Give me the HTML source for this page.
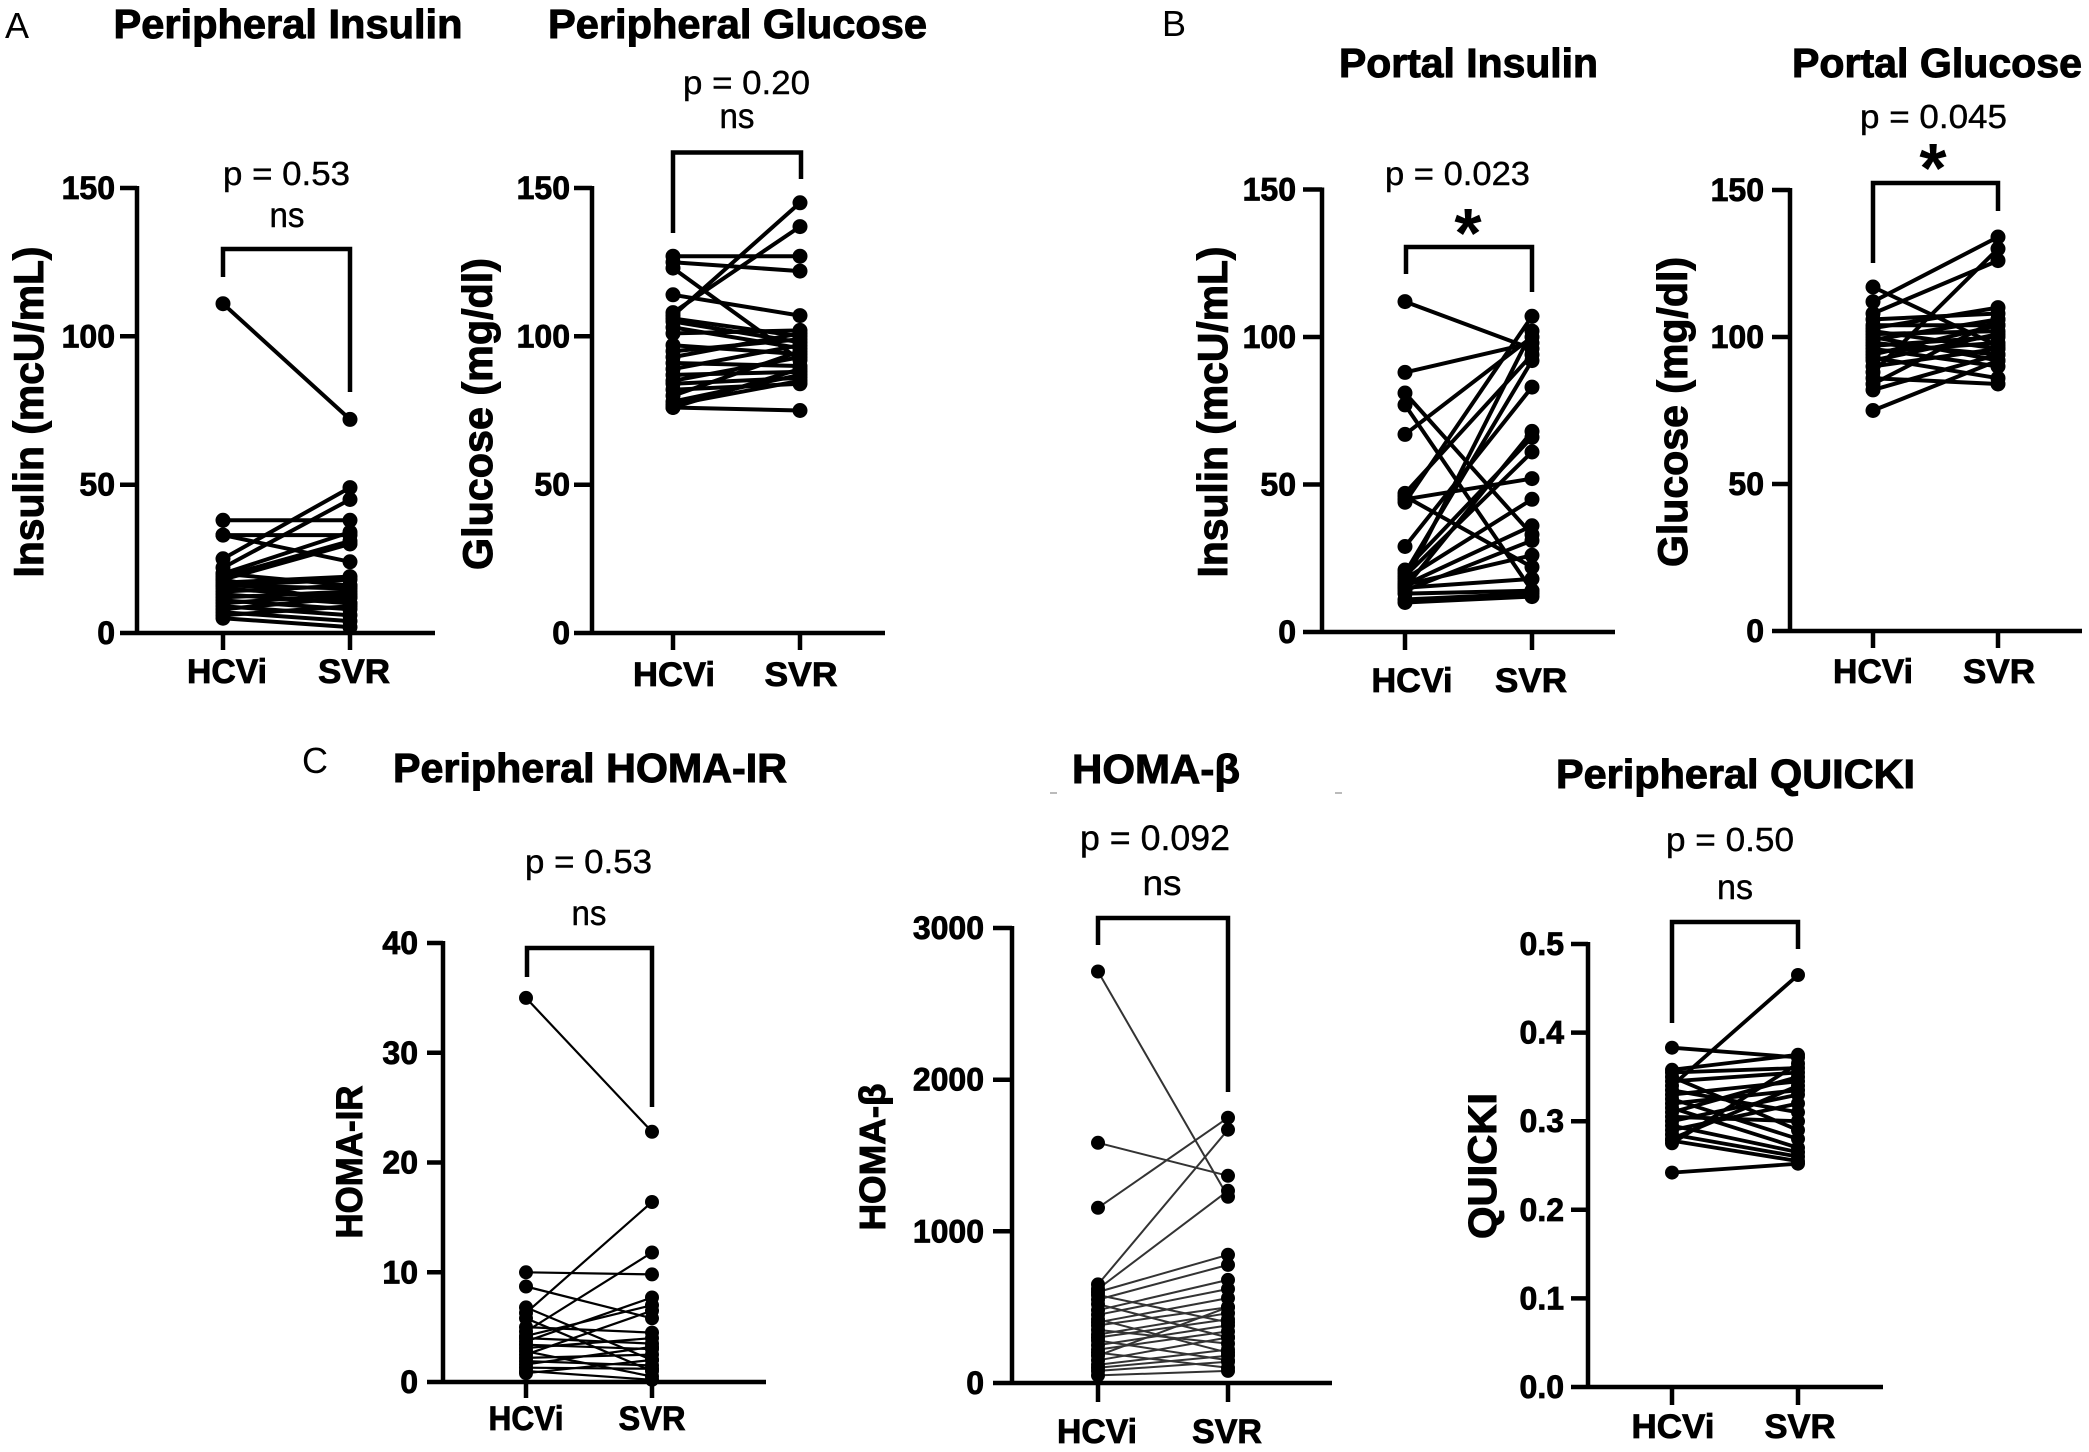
<!DOCTYPE html>
<html>
<head>
<meta charset="utf-8">
<style>
  html, body { margin: 0; padding: 0; background: #ffffff; }
  svg { display: block; }
  .t { font-family: "Liberation Sans", Arial, sans-serif; fill: #000; }
</style>
</head>
<body>
<svg id="fig" xmlns="http://www.w3.org/2000/svg" width="2089" height="1452" viewBox="0 0 2089 1452">
  <rect x="0" y="0" width="2089" height="1452" fill="#fff"/>

  <!-- Panel letters -->
  <text class="t" x="5" y="38" font-size="36">A</text>
  <text class="t" x="1162" y="36" font-size="36">B</text>
  <text class="t" x="302" y="773" font-size="36">C</text>

  <!-- Titles -->
  <g class="t" font-size="41" text-anchor="middle" font-weight="bold" stroke="#000" stroke-width="1">
    <text x="288" y="38" textLength="349" lengthAdjust="spacingAndGlyphs">Peripheral Insulin</text>
    <text x="737.5" y="38" textLength="379" lengthAdjust="spacingAndGlyphs">Peripheral Glucose</text>
    <text x="1468.5" y="77" textLength="259" lengthAdjust="spacingAndGlyphs">Portal Insulin</text>
    <text x="1937" y="77" textLength="290" lengthAdjust="spacingAndGlyphs">Portal Glucose</text>
    <text x="590" y="782" textLength="394" lengthAdjust="spacingAndGlyphs">Peripheral HOMA-IR</text>
    <text x="1156" y="783" textLength="168" lengthAdjust="spacingAndGlyphs">HOMA-β</text>
    <text x="1735.5" y="788" textLength="359" lengthAdjust="spacingAndGlyphs">Peripheral QUICKI</text>
  </g>

  <!-- faint marks near HOMA-beta title -->
  <line x1="1050" y1="793" x2="1057" y2="793" stroke="#bbb" stroke-width="2"/>
  <line x1="1335" y1="793" x2="1342" y2="793" stroke="#bbb" stroke-width="2"/>

  <!-- p-values -->
  <g class="t" font-size="33" text-anchor="middle" stroke="#000" stroke-width="0.4">
    <text x="286.5" y="185" textLength="127" lengthAdjust="spacingAndGlyphs">p = 0.53</text>
    <text x="746.5" y="94" textLength="127" lengthAdjust="spacingAndGlyphs">p = 0.20</text>
    <text x="1457.5" y="185" textLength="145" lengthAdjust="spacingAndGlyphs">p = 0.023</text>
    <text x="1933.5" y="128" textLength="147" lengthAdjust="spacingAndGlyphs">p = 0.045</text>
    <text x="588.5" y="873" textLength="127" lengthAdjust="spacingAndGlyphs">p = 0.53</text>
    <text x="1155" y="850" font-size="35" textLength="150" lengthAdjust="spacingAndGlyphs">p = 0.092</text>
    <text x="1730" y="851" textLength="128" lengthAdjust="spacingAndGlyphs">p = 0.50</text>
  </g>
  <!-- ns -->
  <g class="t" font-size="35" text-anchor="middle" stroke="#000" stroke-width="0.4">
    <text x="287" y="227" textLength="35" lengthAdjust="spacingAndGlyphs">ns</text>
    <text x="737" y="128" textLength="35" lengthAdjust="spacingAndGlyphs">ns</text>
    <text x="589" y="925" textLength="35" lengthAdjust="spacingAndGlyphs">ns</text>
    <text x="1162" y="895" textLength="39" lengthAdjust="spacingAndGlyphs">ns</text>
    <text x="1735" y="899" textLength="36" lengthAdjust="spacingAndGlyphs">ns</text>
  </g>
  <!-- asterisks -->
  <g class="t" font-size="70" font-weight="bold" text-anchor="middle">
    <text x="1468" y="257">*</text>
    <text x="1933" y="192">*</text>
  </g>

  <!-- Brackets -->
  <g fill="none" stroke="#000" stroke-width="4.5">
    <path d="M223,277 V249 H350 V392"/>
    <path d="M673,233 V152.5 H801 V179"/>
    <path d="M1406,274 V247 H1532 V292"/>
    <path d="M1873,263 V183 H1998 V211"/>
    <path d="M527,977 V948 H652 V1107"/>
    <path d="M1098,945 V918 H1228 V1092"/>
    <path d="M1672,1023 V922 H1798 V949"/>
  </g>

  <!-- Axes -->
  <g fill="none" stroke="#000" stroke-width="4.5">
    <path d="M137,186 V633 M120,633 H435 M120,188 H137 M120,336.3 H137 M120,484.7 H137 M223,633 V650 M350,633 V650"/>
    <path d="M592,186 V633 M574,633 H885 M574,188 H592 M574,336.3 H592 M574,484.7 H592 M673,633 V650 M800,633 V650"/>
    <path d="M1322,187.5 V632 M1303,632 H1615 M1303,189.5 H1322 M1303,337 H1322 M1303,484.5 H1322 M1405,632 V650 M1532,632 V650"/>
    <path d="M1790,188 V631 M1772,631 H2082 M1772,190 H1790 M1772,337 H1790 M1772,484 H1790 M1873,631 V648 M1998,631 V648"/>
    <path d="M443,941 V1382 M427,1382 H766 M427,943 H443 M427,1052.75 H443 M427,1162.5 H443 M427,1272.25 H443 M526,1382 V1398 M652,1382 V1398"/>
    <path d="M1012,926 V1383 M993,1383 H1332 M993,928 H1012 M993,1079.7 H1012 M993,1231.3 H1012 M1098,1383 V1402 M1228,1383 V1402"/>
    <path d="M1588,942 V1387 M1571,1387 H1883 M1571,944 H1588 M1571,1032.6 H1588 M1571,1121.2 H1588 M1571,1209.8 H1588 M1571,1298.4 H1588 M1672,1387 V1405 M1798,1387 V1405"/>
  </g>

  <!-- Y tick labels -->
  <g class="t" font-size="32" font-weight="bold" text-anchor="end" stroke="#000" stroke-width="0.8">
    <text x="115" y="199">150</text>
    <text x="115" y="347.3">100</text>
    <text x="115" y="495.7">50</text>
    <text x="115" y="644">0</text>

    <text x="570" y="199">150</text>
    <text x="570" y="347.3">100</text>
    <text x="570" y="495.7">50</text>
    <text x="570" y="644">0</text>

    <text x="1296" y="200.5">150</text>
    <text x="1296" y="348">100</text>
    <text x="1296" y="495.5">50</text>
    <text x="1296" y="643">0</text>

    <text x="1764" y="201">150</text>
    <text x="1764" y="348">100</text>
    <text x="1764" y="495">50</text>
    <text x="1764" y="642">0</text>

    <text x="418" y="954">40</text>
    <text x="418" y="1063.75">30</text>
    <text x="418" y="1173.5">20</text>
    <text x="418" y="1283.25">10</text>
    <text x="418" y="1393">0</text>

    <text x="984" y="939">3000</text>
    <text x="984" y="1090.7">2000</text>
    <text x="984" y="1242.3">1000</text>
    <text x="984" y="1394">0</text>

    <text x="1564" y="955">0.5</text>
    <text x="1564" y="1043.6">0.4</text>
    <text x="1564" y="1132.2">0.3</text>
    <text x="1564" y="1220.8">0.2</text>
    <text x="1564" y="1309.4">0.1</text>
    <text x="1564" y="1398">0.0</text>
  </g>

  <!-- X tick labels -->
  <g class="t" font-size="34" font-weight="bold" text-anchor="middle" stroke="#000" stroke-width="0.8">
    <text x="227" y="683" textLength="80" lengthAdjust="spacingAndGlyphs">HCVi</text>
    <text x="354" y="683" textLength="72" lengthAdjust="spacingAndGlyphs">SVR</text>
    <text x="674" y="686" textLength="82" lengthAdjust="spacingAndGlyphs">HCVi</text>
    <text x="801" y="686" textLength="73" lengthAdjust="spacingAndGlyphs">SVR</text>
    <text x="1412" y="692" textLength="81" lengthAdjust="spacingAndGlyphs">HCVi</text>
    <text x="1531" y="692" textLength="72" lengthAdjust="spacingAndGlyphs">SVR</text>
    <text x="1873" y="683" textLength="80" lengthAdjust="spacingAndGlyphs">HCVi</text>
    <text x="1999" y="683" textLength="72" lengthAdjust="spacingAndGlyphs">SVR</text>
    <text x="526" y="1430" textLength="75" lengthAdjust="spacingAndGlyphs">HCVi</text>
    <text x="652" y="1430" textLength="67" lengthAdjust="spacingAndGlyphs">SVR</text>
    <text x="1097" y="1443" textLength="80" lengthAdjust="spacingAndGlyphs">HCVi</text>
    <text x="1227" y="1443" textLength="70" lengthAdjust="spacingAndGlyphs">SVR</text>
    <text x="1673" y="1438" textLength="83" lengthAdjust="spacingAndGlyphs">HCVi</text>
    <text x="1800" y="1438" textLength="71" lengthAdjust="spacingAndGlyphs">SVR</text>
  </g>

  <!-- Y axis titles -->
  <g class="t" font-weight="bold" text-anchor="middle" stroke="#000" stroke-width="1">
    <text font-size="42" transform="translate(43,412) rotate(-90)" textLength="331" lengthAdjust="spacingAndGlyphs">Insulin (mcU/mL)</text>
    <text font-size="42" transform="translate(492,414) rotate(-90)" textLength="312" lengthAdjust="spacingAndGlyphs">Glucose (mg/dl)</text>
    <text font-size="42" transform="translate(1227,412) rotate(-90)" textLength="331" lengthAdjust="spacingAndGlyphs">Insulin (mcU/mL)</text>
    <text font-size="42" transform="translate(1687,412) rotate(-90)" textLength="310" lengthAdjust="spacingAndGlyphs">Glucose (mg/dl)</text>
    <text font-size="37" transform="translate(362,1162) rotate(-90)" textLength="153" lengthAdjust="spacingAndGlyphs">HOMA-IR</text>
    <text font-size="36" transform="translate(885,1157) rotate(-90)" textLength="147" lengthAdjust="spacingAndGlyphs">HOMA-β</text>
    <text font-size="40" transform="translate(1496,1166) rotate(-90)" textLength="146" lengthAdjust="spacingAndGlyphs">QUICKI</text>
  </g>

  <g id="data"></g>
</svg>

<script>
(function(){
  var NS = "http://www.w3.org/2000/svg";
  var panels = [
    {hx:223, sx:350, y0:633, yt:188, vmax:150, lw:4, col:"#000", r:7.5,
     pairs:[[111,72],[38,38],[33,33],[33,24],[25,49],[22,45],[20,34],[19,31],[18,30],[17,19],[16,18],[16,15],[15,12],[14,16],[13,10],[12,14],[11,8],[10,13],[9,6],[8,12],[7,4],[6,9],[5,2],[18,10],[20,16]]},
    {hx:673, sx:800, y0:633, yt:188, vmax:150, lw:4, col:"#000", r:7.5,
     pairs:[[127,127],[125,122],[123,92],[114,107],[108,137],[107,145],[106,100],[105,98],[103,96],[101,102],[97,94],[95,99],[93,101],[91,90],[89,97],[87,88],[85,93],[84,86],[82,84],[80,95],[78,87],[77,85],[76,75],[76,89]]},
    {hx:1405, sx:1532, y0:632, yt:189.5, vmax:150, lw:4, col:"#000", r:7.5,
     pairs:[[112,96],[88,98],[81,33],[77,14],[67,100],[47,94],[46,22],[45,52],[44,107],[29,83],[21,66],[20,92],[19,61],[18,45],[17,102],[16,36],[16,26],[15,18],[15,68],[14,31],[13,14],[10,12],[11,13]]},
    {hx:1873, sx:1998, y0:631, yt:190, vmax:150, lw:4, col:"#000", r:7.5,
     pairs:[[117,97],[112,134],[108,126],[106,108],[104,104],[103,110],[102,96],[101,102],[100,92],[99,106],[98,94],[97,100],[96,90],[95,98],[94,104],[93,86],[92,101],[90,96],[88,130],[86,84],[84,106],[82,94],[75,92]]},
    {hx:526, sx:652, y0:1382, yt:943, vmax:40, lw:2.2, col:"#000", r:7,
     pairs:[[35,22.8],[10,9.8],[8.7,5.8],[6.8,2],[6.3,16.4],[5.8,1],[5,4.5],[4.6,11.8],[4.2,7],[4,3.5],[3.7,7.7],[3.4,3],[3.1,4],[2.8,0.5],[2.5,6.5],[2.2,2.5],[1.9,1.5],[1.6,3.2],[1.3,1.2],[1.0,0.2],[0.8,2]]},
    {hx:1098, sx:1228, y0:1383, yt:928, vmax:3000, lw:2, col:"#333", r:7,
     pairs:[[2713,1228],[1584,1366],[1155,1749],[650,1670],[620,1267],[600,845],[580,400],[550,779],[520,300],[480,680],[450,620],[420,200],[400,560],[380,500],[350,260],[320,460],[300,420],[280,150],[250,380],[220,340],[200,100],[180,500],[150,300],[120,220],[100,180],[80,140],[50,80]]},
    {hx:1672, sx:1798, y0:1387, yt:944, vmax:0.5, lw:3.8, col:"#000", r:7,
     pairs:[[0.383,0.372],[0.358,0.375],[0.355,0.36],[0.35,0.29],[0.345,0.355],[0.34,0.465],[0.335,0.31],[0.33,0.345],[0.325,0.28],[0.32,0.335],[0.315,0.27],[0.31,0.35],[0.305,0.30],[0.30,0.33],[0.295,0.265],[0.29,0.32],[0.285,0.26],[0.28,0.34],[0.278,0.255],[0.275,0.365],[0.242,0.252]]}
  ];
  var g = document.getElementById("data");
  function el(name, attrs){
    var e = document.createElementNS(NS, name);
    for (var k in attrs) e.setAttribute(k, attrs[k]);
    g.appendChild(e);
  }
  panels.forEach(function(p){
    var sc = (p.y0 - p.yt) / p.vmax;
    p.pairs.forEach(function(pr){
      var ya = p.y0 - pr[0]*sc, yb = p.y0 - pr[1]*sc;
      el("line", {x1:p.hx, y1:ya.toFixed(1), x2:p.sx, y2:yb.toFixed(1), stroke:p.col, "stroke-width":p.lw});
    });
    p.pairs.forEach(function(pr){
      var ya = p.y0 - pr[0]*sc, yb = p.y0 - pr[1]*sc;
      el("circle", {cx:p.hx, cy:ya.toFixed(1), r:p.r, fill:"#000"});
      el("circle", {cx:p.sx, cy:yb.toFixed(1), r:p.r, fill:"#000"});
    });
  });
})();
</script>
</body>
</html>
